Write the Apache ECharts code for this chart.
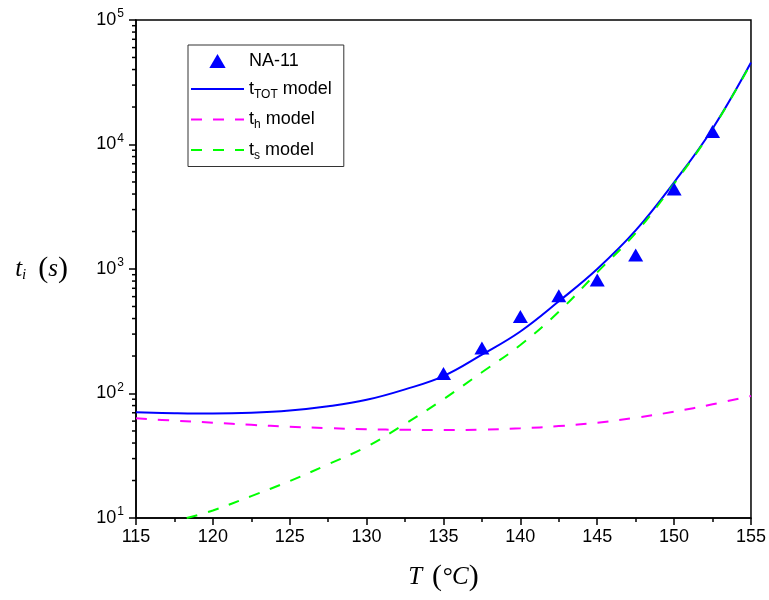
<!DOCTYPE html>
<html>
<head>
<meta charset="utf-8">
<script src="https://cdn.jsdelivr.net/npm/echarts@6/dist/echarts.min.js"></script>
<style>html,body{margin:0;padding:0;background:#fff}#c{width:769px;height:600px}</style>
</head>
<body>
<div id="c"></div>
<script>
// Experimental points (NA-11)
const expT = [135, 137.5, 140, 142.5, 145, 147.5, 150, 152.5];
const expTi = [145, 232, 415, 610, 816, 1295, 4400, 12700];

// Model curves
const modelT = [115, 117.5, 120, 122.5, 125, 127.5, 130, 132.5, 135, 137.5, 140, 142.5, 145, 147.5, 150, 152.5, 155];
const tTot = [70.6, 69.5, 69, 70, 73, 79, 89, 108, 138, 205, 315, 550, 1000, 2040, 4970, 13400, 45500];
const tH = [63.2, 60.5, 58.3, 56, 54.1, 52.7, 51.6, 51.1, 50.9, 51.3, 52.5, 54.7, 58.3, 63.9, 71.4, 81.9, 95.5];
const tsT = [118.3, 120, 122.5, 125, 127.5, 130, 132.5, 135, 137.5, 140, 142.5, 145, 147.5, 150, 152.5, 155];
const tS = [10, 11.5, 15, 19.8, 27, 37.4, 57, 90, 148, 245, 454, 940, 1950, 4850, 13300, 45000];

const xTicks = [115, 120, 125, 130, 135, 140, 145, 150, 155];
const yDecades = [10, 100, 1000, 10000, 100000];

const zip = (a, b) => a.map((v, i) => [v, b[i]]);
const minorVals = [];
for (let d = 0; d < yDecades.length - 1; d++) for (let m = 2; m <= 9; m++) minorVals.push([xTicks[0], m * yDecades[d]]);

const chart = echarts.init(document.getElementById('c'), null, {renderer: 'canvas'});
const sans = 'Arial, "Liberation Sans", sans-serif';
const serif = '"Times New Roman", "Liberation Serif", serif';
const hideSym = {color: 'rgba(0,0,0,0)', borderWidth: 0, borderColor: 'rgba(0,0,0,0)'};

chart.setOption({
  animation: false,
  backgroundColor: '#fff',
  grid: {left: 136, right: 18, top: 20, bottom: 82, show: true, borderColor: '#000', borderWidth: 1.5, backgroundColor: 'transparent'},
  xAxis: {
    type: 'value', min: 115, max: 155, interval: 5,
    name: '{v|T}{g|}{p|(}{u|°C}{p|)}', nameLocation: 'middle', nameGap: 44,
    nameTextStyle: {rich: {v: {fontFamily: serif, fontStyle: 'italic', fontSize: 25, color: '#000'}, g: {width: 10}, u: {fontFamily: serif, fontStyle: 'italic', fontSize: 25, color: '#000'}, p: {fontFamily: serif, fontSize: 30, color: '#000'}}},
    axisLine: {lineStyle: {color: '#000', width: 1.5}},
    axisTick: {inside: false, length: 7, lineStyle: {color: '#000', width: 1.5}},
    minorTick: {show: true, splitNumber: 2, length: 4, lineStyle: {color: '#000', width: 1.5}},
    splitLine: {show: false},
    axisLabel: {fontFamily: sans, fontSize: 18, color: '#000', margin: 10}
  },
  yAxis: {
    type: 'log', logBase: 10, min: 10, max: 100000,
    name: '{t|t}{i|i}{g|}{p|(}{s|s}{p|)}', nameLocation: 'middle', nameRotate: 0, nameGap: 68,
    nameTextStyle: {rich: {t: {fontFamily: serif, fontStyle: 'italic', fontSize: 25, color: '#000'}, i: {fontFamily: serif, fontStyle: 'italic', fontSize: 15, color: '#000', padding: [12, 0, 0, 0]}, g: {width: 12}, s: {fontFamily: serif, fontStyle: 'italic', fontSize: 25, color: '#000'}, p: {fontFamily: serif, fontSize: 30, color: '#000'}}},
    axisLine: {lineStyle: {color: '#000', width: 1.5}},
    axisTick: {inside: false, length: 7, lineStyle: {color: '#000', width: 1.5}},
    splitLine: {show: false},
    axisLabel: {
      margin: 12,
      formatter: v => '{b|10}{e|' + Math.round(Math.log10(v)) + '}',
      rich: {b: {fontFamily: sans, fontSize: 18, color: '#000'}, e: {fontFamily: sans, fontSize: 12, color: '#000', padding: [0, 0, 12, 1]}}
    }
  },
  legend: {
    orient: 'vertical', left: 188, top: 45, padding: [7, 12, 5, 2],
    borderColor: '#333', borderWidth: 1, itemWidth: 53, itemHeight: 14, itemGap: 10,
    symbolKeepAspect: true,
    data: [
      {name: 'NA-11', icon: 'path://M7,0 L14,12 L0,12 Z'},
      {name: 'tTOT', itemStyle: hideSym},
      {name: 'th', itemStyle: hideSym},
      {name: 'ts', itemStyle: hideSym}
    ],
    formatter: n => ({'NA-11': '{a|NA-11}', 'tTOT': '{a|t}{s|TOT}{a| model}', 'th': '{a|t}{s|h}{a| model}', 'ts': '{a|t}{s|s}{a| model}'})[n],
    textStyle: {rich: {a: {fontFamily: sans, fontSize: 18, color: '#000'}, s: {fontFamily: sans, fontSize: 12, color: '#000', padding: [11, 0, 0, 0]}}}
  },
  series: [
    {name: 'tTOT', type: 'line', data: zip(modelT, tTot), smooth: 0.4, symbol: 'none', lineStyle: {color: '#0000ff', width: 2}, itemStyle: {color: '#0000ff'}, z: 3},
    {name: 'th', type: 'line', data: zip(modelT, tH), smooth: 0.4, symbol: 'none', lineStyle: {color: '#ff00ff', width: 2, type: [11, 11]}, itemStyle: {color: '#ff00ff'}, z: 2},
    {name: 'ts', type: 'line', data: zip(tsT, tS), smooth: 0.4, symbol: 'none', lineStyle: {color: '#00ff00', width: 2, type: [11, 11]}, itemStyle: {color: '#00ff00'}, z: 4},
    {name: 'NA-11', type: 'scatter', data: zip(expT, expTi), symbol: 'triangle', symbolSize: [15, 13], itemStyle: {color: '#0000ff', opacity: 1}, z: 5},
    {
      type: 'custom', silent: true, clip: false, data: minorVals, z: 6,
      renderItem: (params, api) => {
        const p = api.coord([api.value(0), api.value(1)]);
        return {type: 'line', shape: {x1: p[0] - 4, y1: p[1], x2: p[0], y2: p[1]}, style: {stroke: '#000', lineWidth: 1.5}};
      }
    }
  ]
});
</script>
</body>
</html>
